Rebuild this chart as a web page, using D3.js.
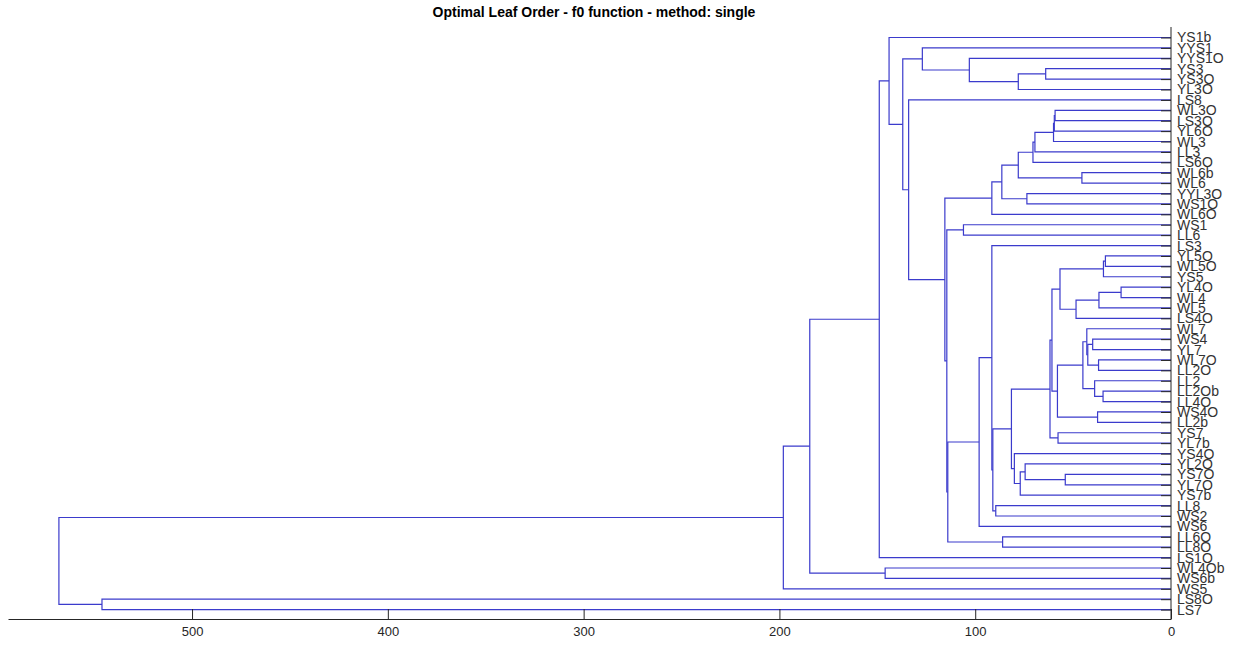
<!DOCTYPE html>
<html>
<head>
<meta charset="utf-8">
<script src="https://cdn.jsdelivr.net/npm/d3@7"></script>
<style>
  body { margin: 0; background: #fff; }
  svg { display: block; font-family: "Liberation Sans", Arial, Helvetica, sans-serif; }
</style>
</head>
<body>
<svg id="chart" width="1240" height="649"></svg>
<script>
// Leaf labels, top to bottom (optimal leaf order)
const leaves = [
  "YS1b","YYS1","YYS1O","YS3","YS3O","YL3O","LS8","WL3O","LS3O","YL6O",
  "WL3","LL3","LS6O","WL6b","WL6","YYL3O","WS1O","WL6O","WS1","LL6",
  "LS3","YL5O","WL5O","YS5","YL4O","WL4","WL5","LS4O","WL7","WS4",
  "YL7","WL7O","LL2O","LL2","LL2Ob","LL4O","WS4O","LL2b","YS7","YL7b",
  "YS4O","YL2O","YS7O","YL7O","YS7b","LL8","WS2","WS6","LL6O","LL8O",
  "LS1O","WL4Ob","WS6b","WS5","LS8O","LS7"
];

// Linkage: [node, first child, second child] and its merge height
const mergeNodes = [
  ["m1","YL4O","WL4"], ["m2","YL5O","WL5O"], ["m3","m2","YS5"], ["m4","LL2Ob","LL4O"],
  ["m5","m1","WL5"], ["m6","WL7O","LL2O"], ["m7","WS4O","LL2b"], ["m8","LL2","m4"],
  ["m9","WS4","YL7"], ["m10","m9","m6"], ["m11","WL7","m10"], ["m12","m11","m8"],
  ["m13","WL6b","WL6"], ["m14","m5","LS4O"], ["m15","YS7O","YL7O"], ["m16","m3","m14"],
  ["m17","YS7","YL7b"], ["m18","m12","m7"], ["m19","WL3O","LS3O"], ["m20","m19","YL6O"],
  ["m21","m20","WL3"], ["m22","m16","m18"], ["m23","m22","m17"], ["m24","YS3","YS3O"],
  ["m25","m21","LL3"], ["m26","m25","LS6O"], ["m27","YYL3O","WS1O"], ["m28","YL2O","m15"],
  ["m29","m28","YS7b"], ["m30","m24","YL3O"], ["m31","m26","m13"], ["m32","YS4O","m29"],
  ["m33","m23","m32"], ["m34","LL6O","LL8O"], ["m35","m31","m27"], ["m36","LL8","WS2"],
  ["m37","m33","m36"], ["m38","m35","WL6O"], ["m39","LS3","m37"], ["m40","m39","WS6"],
  ["m41","YYS1O","m30"], ["m42","WS1","LL6"], ["m43","m40","m34"], ["m44","m42","m43"],
  ["m45","m38","m44"], ["m46","YYS1","m41"], ["m47","LS8","m45"], ["m48","m46","m47"],
  ["m49","YS1b","m48"], ["m50","WL4Ob","WS6b"], ["m51","m49","LS1O"], ["m52","m51","m50"],
  ["m53","m52","WS5"], ["m54","LS8O","LS7"], ["m55","m53","m54"]
];
const mergeHeights = [
  25.5, 33.5, 34.5, 34.7,
  36.8, 37.0, 37.5, 39.0,
  40.0, 42.5, 43.0, 45.0,
  45.5, 48.5, 54.0, 56.7,
  57.7, 58.0, 59.2, 59.6,
  60.0, 60.8, 61.8, 64.0,
  69.5, 70.5, 73.6, 74.5,
  77.0, 78.0, 78.0, 80.0,
  81.5, 86.0, 86.4, 89.5,
  91.0, 91.5, 91.5, 98.0,
  103.0, 106.0, 114.0, 114.5,
  115.5, 127.0, 134.0, 137.0,
  144.0, 146.0, 149.0, 184.5,
  198.0, 546.0, 568.0
];

const xTicks = [0, 100, 200, 300, 400, 500];
const title = "Optimal Leaf Order - f0 function - method: single";

const svg = d3.select("#chart");
const lineColor = "#3b3bcc";
const axisColor = "#262626";

const plotLeft = 8, plotRight = 1171, plotTop = 27, plotBottom = 620;

const x = d3.scaleLinear().domain([0, 594]).range([plotRight, plotLeft]);
const y = d3.scalePoint().domain(leaves).range([37.5, 609.6]);

// Build the tree from the linkage table
const nodes = new Map();
leaves.forEach(name => nodes.set(name, { name, height: 0 }));
mergeNodes.forEach(([id, a, b], i) => {
  nodes.set(id, { name: id, height: mergeHeights[i], children: [nodes.get(a), nodes.get(b)] });
});
const root = d3.hierarchy(nodes.get(mergeNodes[mergeNodes.length - 1][0]));

// Leaf y from the ordering; internal node y at the midpoint of its children
root.eachAfter(d => {
  d.px = x(d.data.height);
  d.py = d.children ? (d.children[0].py + d.children[1].py) / 2 : y(d.data.name);
});

// Elbow links
const links = svg.append("g").attr("fill", "none").attr("stroke", lineColor).attr("stroke-width", 1.2);
root.each(d => {
  if (!d.children) return;
  const [c1, c2] = d.children;
  const p = d3.path();
  p.moveTo(c1.px, c1.py);
  p.lineTo(d.px, c1.py);
  p.lineTo(d.px, c2.py);
  p.lineTo(c2.px, c2.py);
  links.append("path").attr("d", p.toString());
});

// Bottom axis
const xAxis = d3.axisBottom(x).tickValues(xTicks).tickFormat(d3.format("d"))
  .tickSizeInner(-10).tickSizeOuter(0).tickPadding(8);
const gx = svg.append("g").attr("transform", `translate(0,${plotBottom - 1})`).call(xAxis);
gx.select(".domain").attr("stroke", axisColor);
gx.selectAll(".tick line").attr("stroke", axisColor);
gx.selectAll(".tick text").attr("fill", axisColor).style("font-size", "13px")
  .style("font-family", "'Liberation Sans', Arial, sans-serif");

// Right axis with leaf labels
const yAxis = d3.axisRight(y).tickSizeInner(-10).tickSizeOuter(0).tickPadding(6);
const gy = svg.append("g").attr("transform", `translate(${plotRight},0)`).call(yAxis);
gy.select(".domain").remove();
gy.selectAll(".tick line").attr("stroke", axisColor);
gy.selectAll(".tick text").attr("fill", "#333").style("font-size", "14px")
  .style("font-family", "'Liberation Sans', Arial, sans-serif");
svg.append("line")
  .attr("x1", plotRight).attr("x2", plotRight)
  .attr("y1", plotTop).attr("y2", plotBottom - 1)
  .attr("stroke", axisColor);

// Title
svg.append("text")
  .attr("x", 594).attr("y", 17)
  .attr("text-anchor", "middle")
  .attr("font-weight", "bold")
  .attr("font-size", "14px")
  .attr("fill", "#000")
  .text(title);
</script>
</body>
</html>
